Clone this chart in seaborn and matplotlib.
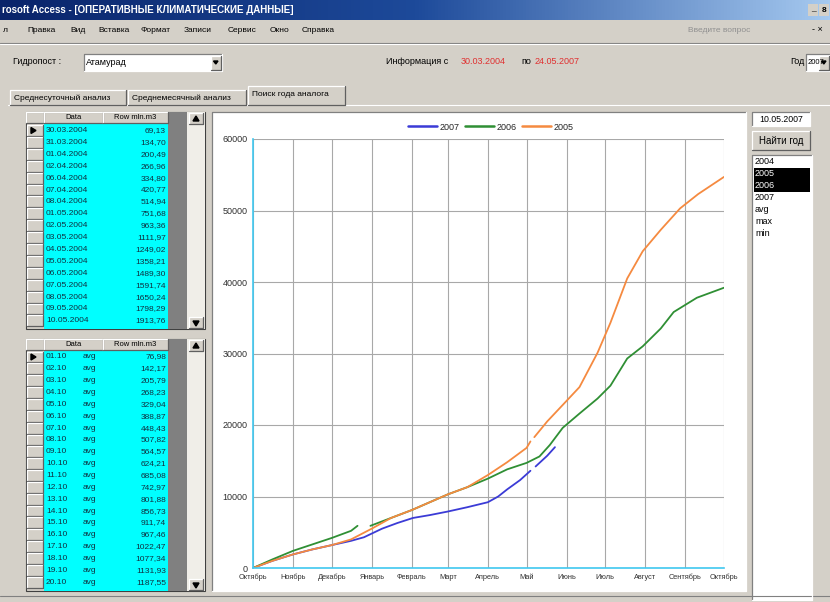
import numpy as np
import pandas as pd
import matplotlib
matplotlib.use('Agg')
import matplotlib.pyplot as plt
import seaborn as sns
from matplotlib.patches import Rectangle, Polygon
from matplotlib.lines import Line2D
from matplotlib.colors import LinearSegmentedColormap

# --- chart data (day of hydrological year, cumulative flow) ---
months = ['Октябрь', 'Ноябрь', 'Декабрь', 'Январь', 'Февраль', 'Март', 'Апрель',
          'Май', 'Июнь', 'Июль', 'Август', 'Сентябрь', 'Октябрь']
month_days = [0, 31, 61, 92, 123, 151, 182, 212, 243, 273, 304, 335, 365]
y_ticks = [0, 10000, 20000, 30000, 40000, 50000, 60000]

days_2005 = [0, 15, 31, 46, 61, 76, 92, 107, 123, 137, 151, 166, 182, 197, 212, 215,
             216, 218, 228, 240, 253, 267, 277, 290, 302, 316, 331, 345, 365]
vals_2005 = [0, 1000, 1900, 2600, 3200, 4000, 5500, 7000, 8100, 9200, 10300, 11300, 13000,
             14800, 16800, 17700, np.nan, 18300, 20500, 22800, 25300, 30100, 34300, 40500,
             44300, 47300, 50300, 52300, 54700]

days_2006 = [0, 15, 31, 46, 61, 76, 81, 86, 91, 107, 123, 137, 151, 166, 182, 197, 212,
             222, 230, 240, 253, 267, 277, 290, 302, 316, 326, 344, 365]
vals_2006 = [0, 1200, 2400, 3300, 4200, 5200, 5900, np.nan, 5900, 7000, 8100, 9200, 10300,
             11300, 12500, 13800, 14700, 15600, 17200, 19600, 21600, 23700, 25500, 29300,
             31000, 33500, 35800, 37800, 39200]

days_2007 = [0, 15, 31, 46, 61, 76, 86, 100, 112, 124, 137, 151, 166, 182, 190, 197, 207,
             215, 217, 219, 228, 234]
vals_2007 = [0, 1000, 1900, 2600, 3200, 3800, 4300, 5500, 6300, 7000, 7400, 7900, 8500,
             9200, 10000, 11000, 12300, 13600, np.nan, 14200, 15700, 16900]

years = ['2007', '2006', '2005']
colors = ['#3b3bd6', '#2f8f34', '#f58a40']

# --- table data ---
top_dates = ['30.03.2004', '31.03.2004', '01.04.2004', '02.04.2004', '06.04.2004',
             '07.04.2004', '08.04.2004', '01.05.2004', '02.05.2004', '03.05.2004',
             '04.05.2004', '05.05.2004', '06.05.2004', '07.05.2004', '08.05.2004',
             '09.05.2004', '10.05.2004']
top_vals = ['69,13', '134,70', '200,49', '266,96', '334,80', '420,77', '514,94', '751,68',
            '963,36', '1111,97', '1249,02', '1358,21', '1489,30', '1591,74', '1650,24',
            '1798,29', '1913,76']
bot_dates = ['01.10', '02.10', '03.10', '04.10', '05.10', '06.10', '07.10', '08.10',
             '09.10', '10.10', '11.10', '12.10', '13.10', '14.10', '15.10', '16.10',
             '17.10', '18.10', '19.10', '20.10']
bot_vals = ['76,98', '142,17', '205,79', '268,23', '329,04', '388,87', '448,43', '507,82',
            '564,57', '624,21', '685,08', '742,97', '801,88', '856,73', '911,74', '967,46',
            '1022,47', '1077,34', '1131,93', '1187,55']
year_list = ['2004', '2005', '2006', '2007', 'avg', 'max', 'min']
menu_items = ['Правка', 'Вид', 'Вставка', 'Формат', 'Записи', 'Сервис', 'Окно', 'Справка']
menu_x = [27, 70, 98, 140, 184, 228, 270, 302]

sns.set_theme(style='white')
plt.rcParams['font.family'] = ['Liberation Sans', 'DejaVu Sans']

BG = '#d4d0c8'
TXT = '#103040'
fig = plt.figure(figsize=(8.3, 6.02), dpi=100)
fig.patch.set_facecolor(BG)
ui = fig.add_axes([0, 0, 1, 1])
ui.axis('off')


def box(x0, y0, x1, y1, fc, ec='none', lw=0.8, z=1):
    ui.add_patch(Rectangle((x0, y0), x1 - x0, y1 - y0, facecolor=fc, edgecolor=ec, lw=lw, zorder=z))


def txt(x, y, s, size=6, color='black', ha='left', weight='normal', z=5):
    ui.text(x, y, s, fontsize=size, color=color, ha=ha, va='center', fontweight=weight, zorder=z)


def sunken(x0, y0, x1, y1, z=3):
    ui.plot([x0, x0, x1], [y1, y0, y0], color='#808080', lw=0.9, zorder=z)
    ui.plot([x0, x1, x1], [y1, y1, y0], color='white', lw=0.9, zorder=z)


def raised(x0, y0, x1, y1, z=3):
    ui.plot([x0, x0, x1], [y1, y0, y0], color='white', lw=0.9, zorder=z)
    ui.plot([x0, x1, x1], [y1, y1, y0], color='#606060', lw=0.9, zorder=z)


def combo(x0, y0, x1, y1, s, size=6.5):
    box(x0, y0, x1, y1, 'white', z=2)
    sunken(x0, y0, x1, y1)
    box(x1 - 11, y0 + 1.5, x1 - 1.5, y1 - 1.5, BG, z=3)
    raised(x1 - 11, y0 + 1.5, x1 - 1.5, y1 - 1.5, z=4)
    ui.add_patch(Polygon([[x1 - 8.5, y0 + 7], [x1 - 4, y0 + 7], [x1 - 6.2, y0 + 10]],
                         color='black', zorder=5))
    txt(x0 + 2, (y0 + y1) / 2, s, size=size)


# title bar
grad = np.linspace(0, 1, 256)[None, :]
cmap = LinearSegmentedColormap.from_list('tb', ['#0a246a', '#1d4a9a', '#a6caf0'])
ui.imshow(grad, extent=[0, 830, 20, 0], aspect='auto', cmap=cmap, zorder=1)
txt(2, 10, 'rosoft Access - [ОПЕРАТИВНЫЕ КЛИМАТИЧЕСКИЕ ДАННЫЕ]', size=7, color='white', weight='bold')
box(808, 4, 818, 16, BG, z=2)
box(819, 4, 829, 16, BG, z=2)
txt(813, 9, '_', size=6, ha='center')
txt(824, 10, '8', size=6, ha='center', weight='bold')

# menu bar
txt(3, 30, 'л', size=6)
for mx, item in zip(menu_x, menu_items):
    txt(mx, 30, item, size=6)
txt(688, 30, 'Введите вопрос', size=6, color='#909090')
txt(812, 30, '- ×', size=6.5)
ui.plot([0, 830], [43, 43], color='#808080', lw=0.8, zorder=2)
ui.plot([0, 830], [44, 44], color='white', lw=0.8, zorder=2)

# filter row
txt(13, 62, 'Гидропост :', size=6.5)
combo(84, 54, 222, 71, 'Атамурад')
txt(386, 62, 'Информация с', size=6.5)
txt(461, 62, '30.03.2004', size=6.5, color='#e03030')
txt(521, 62, 'по', size=6.5)
txt(535, 62, '24.05.2007', size=6.5, color='#e03030')
txt(790, 62, 'Год', size=6.5)
combo(806, 54, 830, 71, '2007', size=5.5)

# tabs
ui.plot([8, 250], [105, 105], color='white', lw=0.8, zorder=2)
ui.plot([345, 830], [105, 105], color='white', lw=0.8, zorder=2)
raised(10, 90, 126, 105)
raised(128, 90, 246, 105)
raised(248, 86, 345, 105)
txt(14, 98, 'Среднесуточный анализ', size=6)
txt(132, 98, 'Среднемесячный анализ', size=6)
txt(252, 95, 'Поиск года аналога', size=6)


def table(y_top, y_bot, head_h, dates, vals, first_c, row_h, extra=None):
    box(26, y_top, 205, y_bot, BG, ec='#404040', lw=0.8, z=1)
    box(44, y_top + head_h, 168, y_bot, '#00ffff', z=2)
    box(168, y_top, 187, y_bot, '#808080', z=2)
    box(187, y_top, 205, y_bot, '#f0eee8', z=2)
    for yy in (y_top + 1, y_bot - 12):
        box(189, yy, 203, yy + 11, BG, z=3)
        raised(189, yy, 203, yy + 11, z=4)
    ui.add_patch(Polygon([[193, y_top + 9], [199, y_top + 9], [196, y_top + 4]], color='black', zorder=5))
    ui.add_patch(Polygon([[193, y_bot - 8], [199, y_bot - 8], [196, y_bot - 3]], color='black', zorder=5))
    for xx0, xx1 in ((26, 44), (44, 103), (103, 168)):
        raised(xx0, y_top, xx1, y_top + head_h)
    txt(73, y_top + head_h / 2, 'Data', size=5.5, ha='center')
    txt(135, y_top + head_h / 2, 'Row mln.m3', size=5.5, ha='center')
    for i, (d, v) in enumerate(zip(dates, vals)):
        yc = first_c + i * row_h
        raised(27, yc - row_h / 2 + 0.5, 43, yc + row_h / 2 - 0.5)
        txt(46, yc, d, size=6, color=TXT)
        if extra is not None:
            txt(83, yc, extra, size=6, color=TXT)
        txt(166, yc, v, size=6, color=TXT, ha='right')
    ui.add_patch(Polygon([[31, first_c - 3], [31, first_c + 3], [36, first_c]], color='black', zorder=5))


table(112, 329, 11, top_dates, top_vals, 130.5, 11.9)
table(339, 591, 11, bot_dates, bot_vals, 357, 11.85, extra='avg')

# right panel
box(752, 112, 810, 126, 'white', z=2)
sunken(752, 112, 810, 126)
txt(781, 119, '10.05.2007', size=6.3, ha='center')
box(752, 131, 810, 150, BG, z=2)
raised(752, 131, 810, 150)
txt(781, 140.5, 'Найти год', size=7, ha='center')
box(752, 155, 812, 600, 'white', z=2)
sunken(752, 155, 812, 600)
for i, s in enumerate(year_list):
    yc = 162 + i * 12
    sel = s in ('2005', '2006')
    if sel:
        box(754, yc - 6, 810, yc + 6, 'black', z=3)
    txt(755, yc, s, size=6.5, color='white' if sel else 'black')

# chart frame
box(212, 112, 746, 591, 'white', z=1)
sunken(212, 112, 746, 591)
ui.plot([0, 830], [596, 596], color='#808080', lw=0.8, zorder=2)

ui.set_xlim(0, 830)
ui.set_ylim(602, 0)

# --- the chart ---
rows = []
for yr, dd, vv in zip(years, [days_2007, days_2006, days_2005], [vals_2007, vals_2006, vals_2005]):
    seg = 0
    for d, v in zip(dd, vv):
        if np.isnan(v):
            seg += 1
            continue
        rows.append({'year': yr, 'seg': seg, 'day': d, 'value': v})
df = pd.DataFrame(rows)

ax = fig.add_axes([253 / 830, 1 - 568 / 602, 471 / 830, 429 / 602])
ax.set_facecolor('white')
sns.lineplot(data=df, x='day', y='value', hue='year', units='seg', estimator=None,
             hue_order=years, palette=colors, lw=1.3, legend=False, ax=ax)
ax.set_xlim(0, 365)
ax.set_ylim(0, 60000)
ax.set_xticks(month_days)
ax.set_xticklabels(months, fontsize=5.3, color='#303030')
ax.set_yticks(y_ticks)
ax.set_yticklabels([str(t) for t in y_ticks], fontsize=6.5, color='#303030')
ax.grid(True, color='#a8a8a8', lw=0.8)
ax.tick_params(length=0, pad=4)
ax.set_xlabel('')
ax.set_ylabel('')
for side in ('top', 'right'):
    ax.spines[side].set_visible(False)
for side in ('left', 'bottom'):
    ax.spines[side].set_color('#40c8f0')
    ax.spines[side].set_linewidth(1.2)
ax.set_zorder(5)

handles = [Line2D([], [], color=c, lw=1.8) for c in colors]
fig.legend(handles, years, loc='center', bbox_to_anchor=(491 / 830, 1 - 127 / 602), ncol=3,
           frameon=False, fontsize=6.5, handlelength=3.2, columnspacing=0.6, handletextpad=0.3)

fig.savefig('out.png', dpi=100, facecolor=fig.get_facecolor())
